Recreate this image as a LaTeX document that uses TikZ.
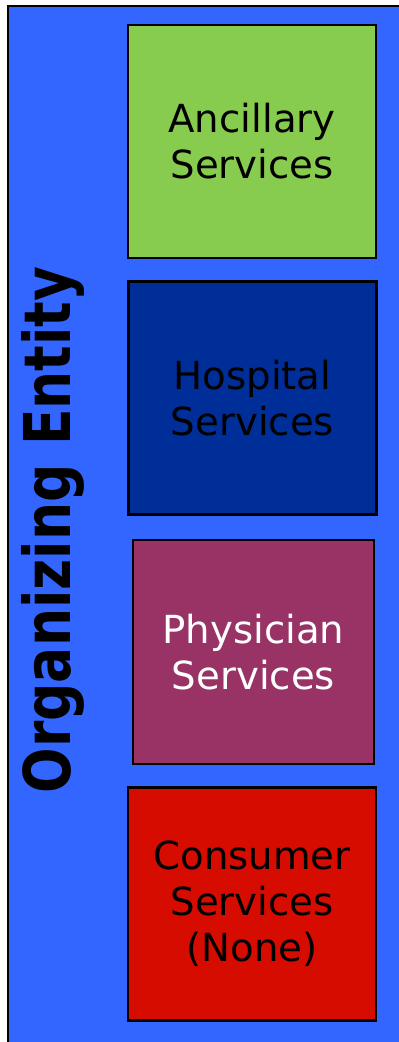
\documentclass[tikz,border=0pt]{standalone}
\usepackage{fontspec}
\setmainfont{DejaVu Sans}

\definecolor{entityblue}{HTML}{3366FF}
\definecolor{ancgreen}{HTML}{88CC4F}
\definecolor{hospblue}{HTML}{002E99}
\definecolor{physplum}{HTML}{993366}
\definecolor{consred}{HTML}{D60C00}

\tikzset{
    service/.style={draw=black, line width=2pt, align=center, inner sep=0pt,
        minimum width=186pt, minimum height=174.75pt,
        font=\fontsize{29}{34.5}\selectfont},
}

\begin{document}
\begin{tikzpicture}[x=0.75pt, y=-0.75pt]

    \useasboundingbox (0,0) rectangle (399,1042);
    \fill[white] (0,0) rectangle (399,1042);

    % outer frame
    \draw[line width=1.5pt, fill=entityblue] (8,6) rectangle (420,1060);
    \node[rotate=90, anchor=base, inner sep=0pt] (entity) at (70.5,530)
        {\scalebox{0.83}[1]{\fontsize{48.4}{50}\selectfont\bfseries Organizing Entity}};

    % service boxes
    \node[service, fill=ancgreen] (ancillary) at (252,141.5) {Ancillary\\Services};
    \node[service, fill=hospblue] (hospital) at (252.5,398) {Hospital\\Services};
    \node[service, fill=physplum, text=white, minimum width=180.75pt, minimum height=168pt]
        (physician) at (253.5,652) {Physician\\Services};
    \node[service, fill=consred] (consumer) at (252,904) {Consumer\\Services\\(None)};

\end{tikzpicture}
\end{document}
